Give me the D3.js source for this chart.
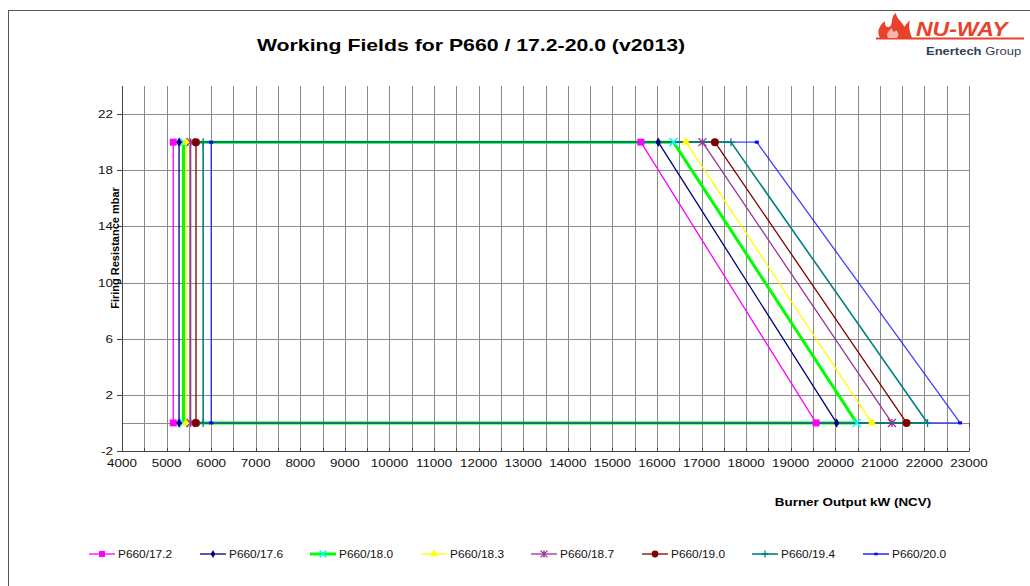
<!DOCTYPE html>
<html><head><meta charset="utf-8">
<script src="https://cdn.jsdelivr.net/npm/d3@7"></script>
<style>
html,body{margin:0;padding:0;background:#fff;}
svg{display:block;font-family:"Liberation Sans",Arial,sans-serif;}
</style></head>
<body>
<svg id="c" width="1030" height="586"></svg>
<script>
// ---- data ----
const seriesNames = ["P660/17.2","P660/17.6","P660/18.0","P660/18.3","P660/18.7","P660/19.0","P660/19.4","P660/20.0"];
const minOutput   = [5150, 5280, 5380, 5440, 5540, 5660, 5820, 6000];
const maxAtTop    = [15640, 16030, 16370, 16650, 17020, 17300, 17660, 18240];
const maxAtZero   = [19570, 20030, 20480, 20820, 21270, 21600, 22070, 22800];
const resistanceLevels = [0, 20];
const xTicks = d3.range(4000, 23001, 1000);
const yTicks = [-2, 2, 6, 10, 14, 18, 22];

// ---- styles ----
const colors  = ["#FF00FF","#000080","#00FF00","#FFFF00","#993399","#800000","#008080","#0000FF"];
const mColors = ["#FF00FF","#000080","#00FFFF","#FFFF00","#993399","#800000","#008080","#0000FF"];
const widths  = [1.3,1.3,3,1.3,1.3,1.3,1.6,1.3];
const markers = ["square","diamond","x","triangle","star","circle","plus","dot"];
const drawOrder = [2,7,0,1,3,4,5,6];
const SX = 1.22; // horizontal stretch of the reference's text

const svg = d3.select("#c");
// frame
svg.append("rect").attr("x",8.5).attr("y",10.5).attr("width",1030).attr("height",600)
  .attr("fill","none").attr("stroke","#555").attr("stroke-width",1);

const x = d3.scaleLinear().domain([4000,23000]).range([122,969]);
const y = d3.scaleLinear().domain([-2,24]).range([451,86]);

function sText(parent, tx, ty, str, size, opts){
  opts = opts||{};
  const sx = opts.sx||SX;
  const t = parent.append("text").attr("transform",`translate(${tx},${ty}) scale(${sx},1)`)
    .attr("font-size",size).attr("fill",opts.fill||"#111")
    .attr("text-anchor",opts.anchor||"start");
  if(opts.bold) t.attr("font-weight","bold");
  t.text(str);
  return t;
}

// grid
const g = svg.append("g");
g.selectAll(".vg").data(d3.range(4000,23001,500)).join("line")
  .attr("x1",d=>Math.round(x(d))+0.5).attr("x2",d=>Math.round(x(d))+0.5)
  .attr("y1",y(24)).attr("y2",y(-2)).attr("stroke","#8a8a8a").attr("stroke-width",1);
g.selectAll(".hg").data(yTicks.concat([0])).join("line")
  .attr("x1",x(4000)).attr("x2",x(23000))
  .attr("y1",d=>Math.round(y(d))+0.5).attr("y2",d=>Math.round(y(d))+0.5)
  .attr("stroke","#8a8a8a").attr("stroke-width",1);

// x axis
const xg = svg.append("g");
xg.append("line").attr("x1",x(4000)).attr("x2",x(23000)).attr("y1",Math.round(y(-2))+0.5).attr("y2",Math.round(y(-2))+0.5).attr("stroke","#444");
xg.selectAll(".xt").data(d3.range(4000,23001,500)).join("line")
  .attr("x1",d=>Math.round(x(d))+0.5).attr("x2",d=>Math.round(x(d))+0.5)
  .attr("y1",Math.round(y(-2))-3).attr("y2",Math.round(y(-2))+0.5).attr("stroke","#444");
xTicks.forEach(v=>sText(xg, x(v), y(-2)+16, d3.format("d")(v), 11, {anchor:"middle"}));

// y axis
const yg = svg.append("g");
yg.append("line").attr("x1",Math.round(x(4000))+0.5).attr("x2",Math.round(x(4000))+0.5).attr("y1",y(24)).attr("y2",y(-2)).attr("stroke","#444");
yTicks.forEach(v=>{
  yg.append("line").attr("x1",x(4000)-5).attr("x2",x(4000)).attr("y1",Math.round(y(v))+0.5).attr("y2",Math.round(y(v))+0.5).attr("stroke","#444");
  sText(yg, x(4000)-9, y(v)+4, String(v), 11, {anchor:"end"});
});

// zero line tick at right
svg.append("line").attr("x1",x(23000)+0.5).attr("x2",x(23000)+0.5).attr("y1",y(0)).attr("y2",y(0)+4).attr("stroke","#444");

// marker drawing
function drawMarker(sel, type, color, cx, cy, scale){
  const s = scale||1;
  const t = `translate(${cx},${cy})`;
  if(type==="square"){
    sel.append("rect").attr("x",cx-3.5*s).attr("y",cy-3.5*s).attr("width",7*s).attr("height",7*s).attr("fill",color);
  } else if(type==="diamond"){
    sel.append("path").attr("transform",t).attr("d",d3.symbol(d3.symbolDiamond,26*s*s)()).attr("fill",color);
  } else if(type==="x"){
    const r=4*s;
    sel.append("path").attr("transform",t).attr("d",`M${-r},${-r}L${r},${r}M${-r},${r}L${r},${-r}`).attr("stroke",color).attr("stroke-width",1.5);
  } else if(type==="triangle"){
    sel.append("path").attr("transform",t).attr("d",d3.symbol(d3.symbolTriangle,36*s*s)()).attr("fill",color);
  } else if(type==="star"){
    const r=4*s;
    sel.append("path").attr("transform",t).attr("d",`M${-r},${-r}L${r},${r}M${-r},${r}L${r},${-r}M0,${-r}L0,${r}`).attr("stroke",color).attr("stroke-width",1.3);
  } else if(type==="circle"){
    sel.append("circle").attr("cx",cx).attr("cy",cy).attr("r",4*s).attr("fill",color);
  } else if(type==="plus"){
    const r=4*s;
    sel.append("path").attr("transform",t).attr("d",`M0,${-r}L0,${r}M${-r},0L${r},0`).attr("stroke",color).attr("stroke-width",1.3);
  } else if(type==="dot"){
    sel.append("rect").attr("x",cx-2*s).attr("y",cy-1.5*s).attr("width",4*s).attr("height",3*s).attr("fill",color);
  }
}

// series
const line = d3.line().x(d=>x(d[0])).y(d=>y(d[1]));
const sg = svg.append("g");
drawOrder.forEach(i=>{
  const lo = resistanceLevels[0], hi = resistanceLevels[1];
  const pts = [[minOutput[i],lo],[minOutput[i],hi],[maxAtTop[i],hi],[maxAtZero[i],lo],[minOutput[i],lo]];
  sg.append("path").attr("d",line(pts)).attr("fill","none").attr("stroke",colors[i])
    .attr("stroke-width",widths[i]).attr("stroke-opacity", i===7?0.75:1).attr("stroke-linejoin","round");
});
const mg = svg.append("g");
drawOrder.forEach(i=>{
  const lo = resistanceLevels[0], hi = resistanceLevels[1];
  const pts = [[minOutput[i],lo],[minOutput[i],hi],[maxAtTop[i],hi],[maxAtZero[i],lo]];
  pts.forEach(p=>drawMarker(mg, markers[i], mColors[i], x(p[0]), y(p[1]), 1));
});

// titles
sText(svg, 471, 51, "Working Fields for P660 / 17.2-20.0 (v2013)", 17, {anchor:"middle", bold:true, fill:"#000", sx:1.25});
svg.append("text").attr("transform","translate(119,248) rotate(-90)").attr("text-anchor","middle")
  .attr("font-size",11).attr("font-weight","bold").attr("fill","#000").text("Firing Resistance mbar");
sText(svg, 853, 506, "Burner Output kW (NCV)", 11, {anchor:"middle", bold:true, fill:"#000"});

// legend
const legendX = [89, 200, 310, 421, 531, 642, 752, 863];
const lg = svg.append("g");
seriesNames.forEach((n,i)=>{
  const lx = legendX[i], ly = 554;
  lg.append("line").attr("x1",lx).attr("x2",lx+26).attr("y1",ly).attr("y2",ly)
    .attr("stroke",colors[i]).attr("stroke-width",widths[i]);
  drawMarker(lg, markers[i], mColors[i], lx+13, ly, 0.85);
  sText(lg, lx+29, ly+4, n, 11, {sx:1.08});
});

// logo
const logo = svg.append("g");
logo.append("line").attr("x1",876).attr("x2",1024).attr("y1",38.5).attr("y2",38.5).attr("stroke","#e8412c").attr("stroke-width",2.2);
logo.append("path").attr("d","M880,38 C876,31 880,25 885,21 C884,27 889,29 891,25 C893,21 891,16 896,13 C896,19 903,22 905,28 C906,32 905,36 903,38 Z")
  .attr("fill","#e8412c");
logo.append("path").attr("d","M888,38 C886,34 888,31 892,28 C892,32 895,33 896,30 C899,33 899,36 897,38 Z").attr("fill","#f7b7a8");
logo.append("path").attr("d","M897,38 C901,32 904,26 910,20 C908,27 910,32 912,38 Z").attr("fill","#e8412c");
sText(logo, 916, 36, "NU-WAY", 20, {bold:true, fill:"#e8412c", sx:1.15}).attr("font-style","italic");
const et = logo.append("text").attr("transform","translate(926,55) scale(1.3,1)").attr("font-size",10).attr("fill","#2f3e55");
et.append("tspan").attr("font-weight","bold").text("Enertech");
et.append("tspan").text(" Group");
</script>
</body></html>
